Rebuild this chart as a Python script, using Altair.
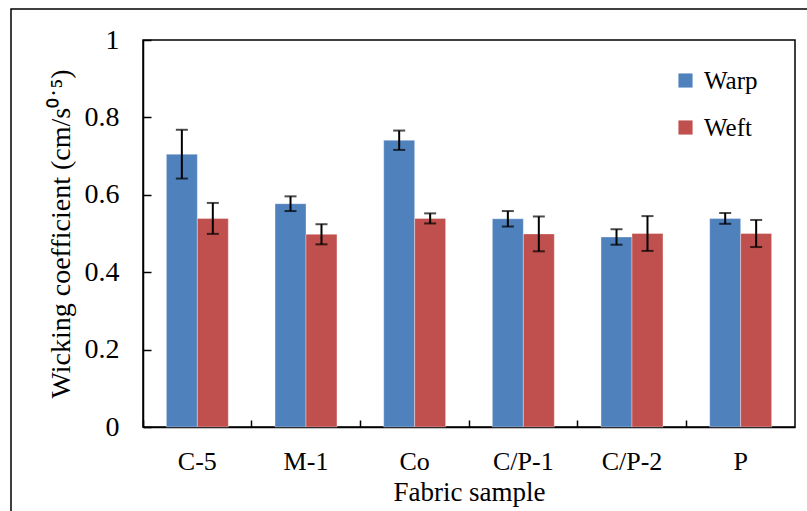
import altair as alt
import pandas as pd

samples = ["C-5", "M-1", "Co", "C/P-1", "C/P-2", "P"]
series = ["Warp", "Weft"]
warp = [0.705, 0.577, 0.741, 0.538, 0.491, 0.539]
warp_err = [0.063, 0.019, 0.025, 0.020, 0.020, 0.014]
weft = [0.539, 0.498, 0.539, 0.499, 0.500, 0.500]
weft_err = [0.040, 0.026, 0.013, 0.045, 0.045, 0.035]
y_ticks = [0, 0.2, 0.4, 0.6, 0.8, 1]

rows = []
for i, s in enumerate(samples):
    rows.append({"sample": s, "series": "Warp", "value": warp[i],
                 "lo": warp[i] - warp_err[i], "hi": warp[i] + warp_err[i]})
    rows.append({"sample": s, "series": "Weft", "value": weft[i],
                 "lo": weft[i] - weft_err[i], "hi": weft[i] + weft_err[i]})
df = pd.DataFrame(rows)

W, H = 652, 387
FONT = "Liberation Serif"

xscale = alt.Scale(domain=samples, paddingInner=0.43, paddingOuter=0.215)
yscale = alt.Scale(domain=[0, 1])
xoff = alt.XOffset("series:N", scale=alt.Scale(domain=series, paddingInner=0, paddingOuter=0))

main_x_axis = alt.Axis(title="Fabric sample", labelAngle=0, ticks=False, labelPadding=21,
                       titlePadding=5, labelFontSize=26, titleFontSize=27,
                       labelFont=FONT, titleFont=FONT,
                       titleFontWeight="normal", labelColor="black",
                       titleColor="black", domainColor="black", domainWidth=1.5)
main_y_axis = alt.Axis(title="Wicking coefficient (cm/s⁰˙⁵)", values=y_ticks, format="~g",
                       ticks=False, labelPadding=24, titlePadding=9, grid=False,
                       labelFontSize=28, titleFontSize=28, labelFont=FONT,
                       titleFont=FONT,
                       titleFontWeight="normal", labelColor="black", titleColor="black",
                       domainColor="black", domainWidth=1.5)

tick_x_axis = alt.Axis(title=None, orient="top", offset=-H, labels=False, domain=False,
                       ticks=True, tickSize=7, tickWidth=1.5, tickColor="black",
                       bandPosition=-0.377, grid=False)
tick_y_axis = alt.Axis(title=None, orient="right", offset=-W, labels=False, domain=False,
                       ticks=True, tickSize=8, tickWidth=1.5, tickColor="black",
                       values=y_ticks, grid=False)

bars = alt.Chart(df).mark_bar(stroke="white", strokeWidth=1, strokeOpacity=0.35).encode(
    x=alt.X("sample:N", sort=samples, scale=xscale, axis=main_x_axis),
    xOffset=xoff,
    y=alt.Y("value:Q", scale=yscale, axis=main_y_axis),
    color=alt.Color("series:N", scale=alt.Scale(domain=series, range=["#4F81BD", "#C0504D"]),
                    legend=alt.Legend(title=None, orient="none", legendX=530, legendY=28,
                                      symbolType="square", symbolSize=200, symbolStrokeWidth=0,
                                      labelFont=FONT, labelFontSize=25, labelColor="black",
                                      rowPadding=21, labelOffset=6)),
)

err = alt.Chart(df).mark_rule(color="black", strokeWidth=2).encode(
    x=alt.X("sample:N", sort=samples, scale=xscale, axis=tick_x_axis),
    xOffset=xoff,
    y=alt.Y("lo:Q", scale=yscale, axis=tick_y_axis),
    y2="hi:Q",
)
cap_lo = alt.Chart(df).mark_tick(color="black", size=12, thickness=2).encode(
    x=alt.X("sample:N", sort=samples, scale=xscale, axis=None),
    xOffset=xoff,
    y=alt.Y("lo:Q", scale=yscale, axis=None),
)
cap_hi = alt.Chart(df).mark_tick(color="black", size=12, thickness=2).encode(
    x=alt.X("sample:N", sort=samples, scale=xscale, axis=None),
    xOffset=xoff,
    y=alt.Y("hi:Q", scale=yscale, axis=None),
)

frame = alt.Chart(pd.DataFrame({"k": [0]})).mark_rect(
    fill="transparent", stroke="black", strokeWidth=1.5, clip=False
).encode(
    x=alt.value(-132), x2=alt.value(720), y=alt.value(-31), y2=alt.value(600)
)

chart = alt.layer(bars, err, cap_lo, cap_hi, frame).resolve_axis(
    x="independent", y="independent"
).properties(
    width=W, height=H,
    autosize=alt.AutoSizeParams(type="none"),
    padding={"left": 143, "top": 40, "right": 12, "bottom": 84},
).configure(background="white").configure_view(stroke="black", strokeWidth=1.5)

chart.save("out.html", embed_options={"renderer": "svg", "actions": False})
